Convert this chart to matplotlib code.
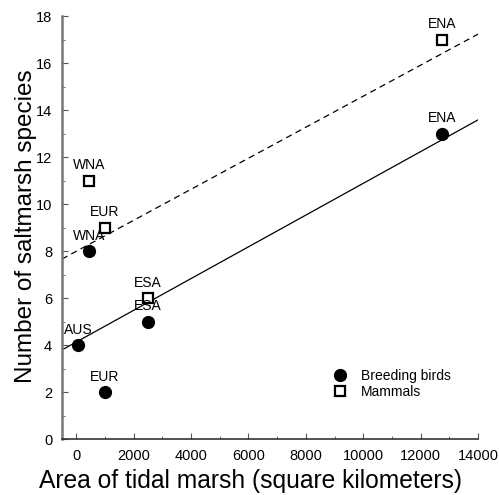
import numpy as np
import matplotlib
matplotlib.use("Agg")
import matplotlib.pyplot as plt
from matplotlib.ticker import MultipleLocator

plt.rcParams['font.family'] = ['Liberation Sans', 'DejaVu Sans']

# 數據
regions_birds = ["AUS", "EUR", "WNA", "ESA", "ENA"]
area_birds = [70, 1000, 450, 2500, 12750]
species_birds = [4, 2, 8, 5, 13]

regions_mammals = ["WNA", "EUR", "ESA", "ENA"]
area_mammals = [450, 1000, 2500, 12750]
species_mammals = [11, 9, 6, 17]

fig = plt.figure(figsize=(4.99, 4.95), dpi=100)
ax = fig.add_axes([0.124, 0.1125, 0.834, 0.855])

# 回歸線
xs = np.array([-500, 14000])
b1 = np.polyfit(area_birds, species_birds, 1)
b2 = np.polyfit(area_mammals, species_mammals, 1)
ax.plot(xs, np.polyval(b1, xs), color='black', lw=0.9, zorder=2)
ax.plot(xs, np.polyval(b2, xs), color='black', lw=0.9, ls=(0, (5, 3.5)), zorder=2)

ax.plot(area_birds, species_birds, 'o', color='black', ms=8.5, ls='none',
        label='Breeding birds', zorder=3)
ax.plot(area_mammals, species_mammals, 's', mfc='white', mec='black', mew=1.6,
        ms=7, ls='none', label='Mammals', zorder=3)

for name, x, y in zip(regions_birds, area_birds, species_birds):
    ax.annotate(name, (x, y), xytext=(0, 6), textcoords='offset points',
                ha='center', va='bottom', fontsize=10)
for name, x, y in zip(regions_mammals, area_mammals, species_mammals):
    ax.annotate(name, (x, y), xytext=(0, 6), textcoords='offset points',
                ha='center', va='bottom', fontsize=10)

ax.set_xlim(-500, 14000)
ax.set_ylim(0, 18)
ax.xaxis.set_major_locator(MultipleLocator(2000))
ax.xaxis.set_minor_locator(MultipleLocator(1000))
ax.yaxis.set_major_locator(MultipleLocator(2))
ax.yaxis.set_minor_locator(MultipleLocator(1))

for s in ['top', 'right']:
    ax.spines[s].set_visible(False)
ax.spines['left'].set_color('#777777')
ax.spines['left'].set_linewidth(1.8)
ax.spines['bottom'].set_color('#333333')
ax.spines['bottom'].set_linewidth(1.2)
ax.tick_params(which='major', direction='in', length=4, labelsize=10.5, color='#555555', pad=7)
ax.tick_params(which='minor', direction='in', length=2.5, color='#555555')

fig.text(251 / 499, 1 - 481 / 495, "Area of tidal marsh (square kilometers)",
         fontsize=17.7, ha='center', va='center')
fig.text(26 / 499, 1 - 226 / 495, "Number of saltmarsh species",
         fontsize=17.5, ha='center', va='center', rotation=90)

ax.legend(loc='lower right', bbox_to_anchor=(0.965, 0.065), frameon=False, fontsize=10,
          handletextpad=0.9, labelspacing=0.2, handlelength=1.2)

fig.savefig("out.png", dpi=100)
